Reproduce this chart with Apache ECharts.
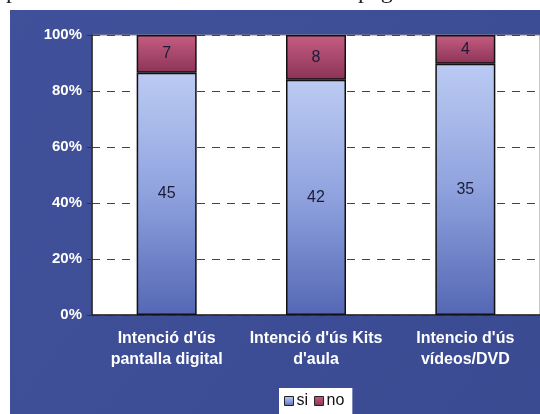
<!DOCTYPE html>
<html>
<head>
<meta charset="utf-8">
<script src="https://cdn.jsdelivr.net/npm/echarts@6/dist/echarts.min.js"></script>
<style>
  html, body { margin: 0; padding: 0; background: #fff; }
  #chart { width: 540px; height: 414px; }
</style>
</head>
<body>
<div id="chart"></div>
<script>
  var categories = ["Intenció d'ús\npantalla digital", "Intenció d'ús Kits\nd'aula", "Intencio d'ús\nvídeos/DVD"];
  var siValues = [45, 42, 35];
  var noValues = [7, 8, 4];

  // 100% stacked: share of each answer per category
  var siShare = siValues.map(function (v, i) { return v / (v + noValues[i]) * 100; });
  var noShare = noValues.map(function (v, i) { return v / (siValues[i] + v) * 100; });

  var chart = echarts.init(document.getElementById('chart'), null, { renderer: 'canvas' });

  var barBorder = { borderColor: '#111', borderWidth: 1.5 };

  var option = {
    animation: false,
    backgroundColor: '#fff',
    graphic: [
      {
        type: 'rect',
        z: -10,
        shape: { x: 10, y: 10, width: 530, height: 404 },
        style: {
          fill: new echarts.graphic.LinearGradient(0, 0, 1, 1, [
            { offset: 0, color: '#40509a' },
            { offset: 1, color: '#3b4b92' }
          ])
        }
      },
      {
        type: 'text',
        left: 6, top: -20,
        style: { text: 'p', font: '24px "Liberation Serif", serif', fill: '#222' }
      },
      {
        type: 'text',
        left: 318, top: -20,
        style: { text: 'a la pàgina', font: '24px "Liberation Serif", serif', fill: '#222' }
      }
    ],
    grid: {
      left: 92, top: 35, width: 450, height: 280,
      show: true, backgroundColor: '#fff', borderColor: '#8a8a8a', borderWidth: 1
    },
    legend: {
      left: 279, top: 388,
      data: ['si', 'no'],
      backgroundColor: '#fff',
      padding: [5, 8, 8, 5],
      itemGap: 6,
      itemWidth: 9, itemHeight: 9,
      icon: 'rect',
      itemStyle: { borderColor: '#222', borderWidth: 1 },
      textStyle: { fontFamily: 'Liberation Sans, Arial', fontSize: 16, color: '#111', padding: [0, 0, 0, -2] }
    },
    xAxis: {
      type: 'category',
      data: categories,
      axisLine: { lineStyle: { color: '#222', width: 1.5 } },
      axisTick: { show: false },
      axisLabel: {
        interval: 0,
        margin: 13,
        color: '#fff',
        fontFamily: 'Liberation Sans, Arial',
        fontWeight: 'bold',
        fontSize: 16,
        lineHeight: 21
      }
    },
    yAxis: {
      type: 'value',
      min: 0, max: 100, interval: 20,
      axisLine: { show: true, lineStyle: { color: '#222', width: 1.5 } },
      axisTick: { show: true, length: 5, lineStyle: { color: '#333' } },
      axisLabel: {
        formatter: '{value}%',
        margin: 10,
        color: '#fff',
        fontFamily: 'Liberation Sans, Arial',
        fontWeight: 'bold',
        fontSize: 15
      },
      splitLine: { lineStyle: { color: '#444', type: [8, 7], width: 1 } }
    },
    series: [
      {
        name: 'si',
        type: 'bar',
        stack: 'total',
        barWidth: 60,
        data: siShare,
        itemStyle: Object.assign({
          color: new echarts.graphic.LinearGradient(0, 0, 0, 1, [
            { offset: 0, color: '#bccbf3' },
            { offset: 0.5, color: '#8fa2de' },
            { offset: 1, color: '#5467b4' }
          ])
        }, barBorder),
        label: {
          show: true,
          position: 'inside',
          color: '#1c1c38',
          fontFamily: 'Liberation Sans, Arial',
          fontSize: 16,
          formatter: function (p) { return siValues[p.dataIndex]; }
        }
      },
      {
        name: 'no',
        type: 'bar',
        stack: 'total',
        barWidth: 60,
        data: noShare,
        itemStyle: Object.assign({
          color: new echarts.graphic.LinearGradient(0, 0, 0, 1, [
            { offset: 0, color: '#c65d82' },
            { offset: 1, color: '#8b3456' }
          ])
        }, barBorder),
        label: {
          show: true,
          position: 'inside',
          color: '#1c1c38',
          fontFamily: 'Liberation Sans, Arial',
          fontSize: 16,
          formatter: function (p) { return noValues[p.dataIndex]; }
        }
      }
    ]
  };

  chart.setOption(option);
</script>
</body>
</html>
